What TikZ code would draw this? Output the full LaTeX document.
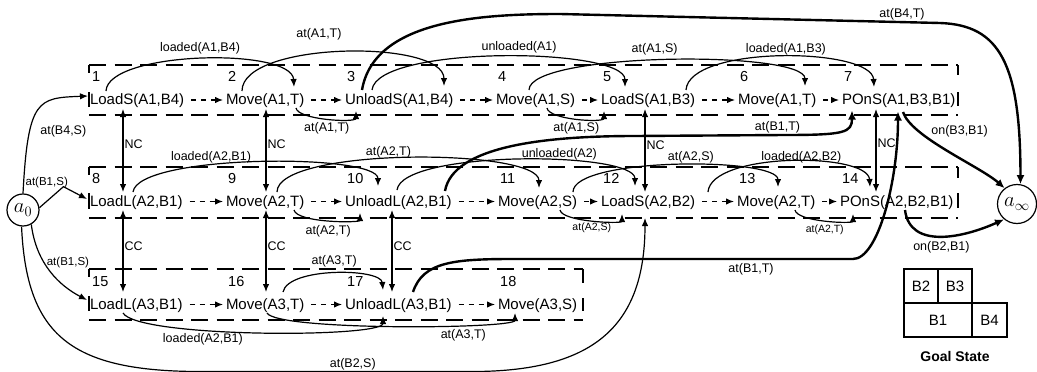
\documentclass[tikz,border=0pt]{standalone}
\usepackage{fontspec}
\setmainfont{Liberation Sans}
\usetikzlibrary{arrows.meta,calc}

\tikzset{
  act/.style={anchor=base west, inner sep=0pt, outer sep=0pt, font=\fontsize{15}{18}\selectfont},
  num/.style={anchor=base west, inner sep=0pt, font=\fontsize{14.5}{17}\selectfont},
  lab/.style={inner sep=1pt, font=\fontsize{12.5}{14}\selectfont},
  slab/.style={inner sep=1pt, font=\fontsize{10.5}{12}\selectfont},
  mlab/.style={inner sep=1pt, font=\fontsize{11.5}{13}\selectfont},
  link/.style={line width=1.2pt, -{Latex[length=8pt,width=6.5pt]}},
  heavy/.style={line width=2.4pt, -{Latex[length=9pt,width=8pt]}},
  order/.style={line width=1.2pt, dash pattern=on 5pt off 5pt, -{Latex[length=8pt,width=6.5pt]}},
  conflict/.style={line width=1.2pt, {Latex[length=8pt,width=6.5pt]}-{Latex[length=8pt,width=6.5pt]}},
  frame/.style={line width=1.5pt, dash pattern=on 17pt off 8.5pt},
  tick/.style={line width=1.5pt},
  state/.style={circle, draw, line width=1.2pt, inner sep=0pt, font=\fontsize{20}{24}\selectfont},
  block/.style={draw, line width=1.3pt, inner sep=0pt, minimum height=34pt, font=\fontsize{15}{18}\selectfont},
}

\begin{document}
\begin{tikzpicture}[x=1pt,y=-1pt]
\useasboundingbox (0,0) rectangle (1037,372);

% ---------- plan steps ----------
\node[act] (n1)  at (90,104.5)  {LoadS(A1,B4)};
\node[act] (n2)  at (226,104.5) {Move(A1,T)};
\node[act] (n3)  at (345,104.5) {UnloadS(A1,B4)};
\node[act] (n4)  at (496,104.5) {Move(A1,S)};
\node[act] (n5)  at (601,104.5) {LoadS(A1,B3)};
\node[act] (n6)  at (738,104.5) {Move(A1,T)};
\node[act] (n7)  at (842,104.5) {POnS(A1,B3,B1)};

\node[act] (n8)  at (90,206)  {LoadL(A2,B1)};
\node[act] (n9)  at (226,206) {Move(A2,T)};
\node[act] (n10) at (345,206) {UnloadL(A2,B1)};
\node[act] (n11) at (498,206) {Move(A2,S)};
\node[act] (n12) at (601,206) {LoadS(A2,B2)};
\node[act] (n13) at (737,206) {Move(A2,T)};
\node[act] (n14) at (840,206) {POnS(A2,B2,B1)};

\node[act] (n15) at (90,309)  {LoadL(A3,B1)};
\node[act] (n16) at (226,309) {Move(A3,T)};
\node[act] (n17) at (345,309) {UnloadL(A3,B1)};
\node[act] (n18) at (498,309) {Move(A3,S)};

% step numbers
\foreach \k in {1,...,18}
  \node[num] (k\k) at ($(n\k.base west)+(2,-23)$) {\k};

% start and goal states
\node[state, minimum size=32pt] (a0) at (23,210) {$a_0$};
\node[state, minimum size=39pt] (ainf) at (1017,204) {$a_\infty$};

% ---------- agent frames ----------
\foreach \t/\b/\r in {65/115/958, 167/218/958, 269/320/583} {
  \draw[frame] (89,\t) -- (\r,\t);
  \draw[frame] (89,\b) -- (\r,\b);
}
\draw[tick] (89,65) -- (89,73)   (89,92) -- (89,107)
            (958,65) -- (958,75) (958,92) -- (958,106);
\draw[tick] (89,167) -- (89,175) (89,193) -- (89,209)
            (958,167) -- (958,178) (958,193) -- (958,208);
\draw[tick] (89,269) -- (89,277) (89,296) -- (89,311)
            (583,269) -- (583,283) (583,298) -- (583,311);

% ---------- ordering within each agent ----------
\foreach \a/\b in {n1/n2,n2/n3,n3/n4,n4/n5,n5/n6,n6/n7,
                   n8/n9,n9/n10,n10/n11,n11/n12,n12/n13,n13/n14,
                   n15/n16,n16/n17,n17/n18}
  \draw[order] ($(\a.base east)+(7,-4.5)$) -- ($(\b.base west)+(-3,-4.5)$);

% ---------- conflicts between agents ----------
\draw[conflict] ($(n1.base west)+(33,4.5)$) -- ($(n8.base west)+(33,-14)$)
  node[lab, pos=.43, anchor=west] (c1) {NC};
\draw[conflict] ($(n8.base west)+(33,4)$) -- ($(n15.base west)+(33,-17)$)
  node[lab, pos=.44, anchor=west] (c2) {CC};
\draw[conflict] ($(n2.base west)+(40,4.5)$) -- ($(n9.base west)+(40,-14)$)
  node[lab, pos=.43, anchor=west] (c3) {NC};
\draw[conflict] ($(n9.base west)+(40,4)$) -- ($(n16.base west)+(40,-17)$)
  node[lab, pos=.44, anchor=west] (c4) {CC};
\draw[conflict] ($(n10.base west)+(47,4)$) -- ($(n17.base west)+(47,-17)$)
  node[lab, pos=.44, anchor=west] (c5) {CC};
\draw[conflict] ($(n5.base west)+(44,4.5)$) -- ($(n12.base west)+(44,-14)$)
  node[lab, pos=.44, anchor=west] (c6) {NC};
\draw[conflict] ($(n7.base west)+(34,4.5)$) -- ($(n14.base west)+(36,-14)$)
  node[lab, pos=.41, anchor=west] (c7) {NC};

% ---------- causal links, agent A1 ----------
\draw[link] ($(n1.base west)+(16,-13.5)$) .. controls +(2,-40) and +(-2,-40) .. ($(n2.base west)+(68,-17.5)$)
  node[lab, pos=.5, above=3pt] (l1) {loaded(A1,B4)};
\draw[link] ($(n2.base west)+(16,-13.5)$) .. controls +(0,-50) and +(0,-47) .. ($(n3.base west)+(99,-18.5)$)
  node[lab, pos=.42, above=12pt] (l2) {at(A1,T)};
\draw[link] ($(n2.base west)+(70,3.5)$) .. controls +(2,12) and +(0,12) .. ($(n3.base west)+(11,6.5)$)
  node[lab, pos=.5, below=2pt] (l3) {at(A1,T)};
\draw[link] ($(n3.base west)+(27,-14.5)$) .. controls +(5,-45) and +(0,-40) .. ($(n5.base west)+(24,-17.5)$)
  node[lab, pos=.55, above=2pt] (l4) {unloaded(A1)};
\draw[link] ($(n4.base west)+(33,-14.5)$) .. controls +(0,-38) and +(0,-36) .. ($(n6.base west)+(67,-18.5)$)
  node[lab, pos=.47, above=4pt] (l5) {at(A1,S)};
\draw[link] ($(n4.base west)+(51,3.5)$) .. controls +(2,12) and +(0,12) .. ($(n5.base west)+(3,6.5)$)
  node[lab, pos=.5, below=2pt] (l6) {at(A1,S)};
\draw[link] ($(n5.base west)+(85,-14.5)$) .. controls +(3,-45) and +(-2,-40) .. ($(n7.base west)+(32,-17.5)$)
  node[lab, pos=.52, above=0pt] (l7) {loaded(A1,B3)};

% ---------- causal links, agent A2 ----------
\draw[link] ($(n8.base west)+(43,-14)$) .. controls +(5,-38) and +(0,-33) .. ($(n10.base west)+(33,-20)$)
  node[lab, pos=.37, above=0pt] (l8) {loaded(A2,B1)};
\draw[link] ($(n9.base west)+(51,-14)$) .. controls +(0,-45) and +(0,-40) .. ($(n11.base west)+(41,-18)$)
  node[lab, pos=.45, above=-1pt] (l9) {at(A2,T)};
\draw[link] ($(n9.base west)+(68,4)$) .. controls +(3,13) and +(0,10) .. ($(n10.base west)+(15,7)$)
  node[lab, pos=.5, below=4pt] (l10) {at(A2,T)};
\draw[link] ($(n10.base west)+(52,-16)$) .. controls +(5,-40) and +(0,-35) .. ($(n12.base west)+(34,-20)$)
  node[lab, pos=.62, above=0pt] (l11) {unloaded(A2)};
\draw[link] ($(n11.base west)+(75,-14)$) .. controls +(0,-35) and +(0,-30) .. ($(n13.base west)+(41,-19)$)
  node[lab, pos=.55, above=0pt] (l12) {at(A2,S)};
\draw[link] ($(n11.base west)+(62,4)$) .. controls +(2,12) and +(0,10) .. ($(n12.base west)+(21,8)$)
  node[slab, pos=.5, below=1pt] (l13) {at(A2,S)};
\draw[link] ($(n12.base west)+(107,-14)$) .. controls +(3,-40) and +(-2,-35) .. ($(n14.base west)+(30,-19)$)
  node[lab, pos=.55, above=-3pt] (l14) {loaded(A2,B2)};
\draw[link] ($(n13.base west)+(58,4)$) .. controls +(2,12) and +(0,10) .. ($(n14.base west)+(13,8)$)
  node[slab, pos=.5, below=3pt] (l15) {at(A2,T)};

% ---------- causal links, agent A3 ----------
\draw[link] ($(n16.base west)+(57,-17)$) .. controls +(5,-25) and +(-2,-22) .. ($(n17.base west)+(38,-19)$)
  node[lab, pos=.5, above=5pt] (l16) {at(A3,T)};
\draw[link] ($(n15.base west)+(33,4)$) .. controls +(15,25) and +(0,22) .. ($(n17.base west)+(38,7)$)
  node[lab, pos=.35, below=2pt] (l17) {loaded(A2,B1)};
\draw[link] ($(n16.base west)+(41,4)$) .. controls +(10,18) and +(0,16) .. ($(n18.base west)+(17,4)$)
  node[lab, pos=.7, below=4pt] (l18) {at(A3,T)};

% ---------- links from the start state ----------
\draw[link] (a0.90) .. controls +(5,-95) and +(-50,2) .. ($(n1.base west)+(-2,-8.5)$)
  node[lab, pos=.3, anchor=west, xshift=9pt] (l19) {at(B4,S)};
\draw[link] (a0.8) -- ++(24,-21) node[mlab, anchor=east, xshift=6pt, yshift=4pt] (l20) {at(B1,S)}
  -- ($(n8.base west)+(-3,-7)$);
\draw[link] (a0.-60) .. controls +(5,40) and +(-27,-14) .. ($(n15.base west)+(-3,-9)$)
  node[mlab, pos=.38, anchor=west, xshift=1pt] (l21) {at(B1,S)};
\draw[link] (a0.-95) .. controls +(5,110) and +(-130,0) .. ++(180,145)
  -- ++(270,0) node[lab, pos=.56, above=0pt] (l22) {at(B2,S)}
  .. controls +(120,0) and +(0,110) .. ($(n12.base west)+(44,12)$);

% ---------- links carrying block positions ----------
\draw[heavy] ($(n3.base west)+(17,-14.5)$) .. controls +(12,-70) and +(-80,0) .. ++(198,-76)
  -- ++(380,9) node[lab, pos=.9, above=0pt] (l23) {at(B4,T)}
  .. controls +(60,2) and +(0,-120) .. (ainf.80);
\draw[heavy] ($(n10.base west)+(100,-15)$) .. controls +(8,-45) and +(-90,0) .. ++(190,-55)
  -- ++(150,-1) node[lab, pos=.95, above=0pt] (l24) {at(B1,T)}
  .. controls +(60,0) and +(0,22) .. ($(n7.base west)+(10,6)$);
\draw[heavy] ($(n17.base west)+(68,-17)$) .. controls +(10,-30) and +(-60,0) .. ++(100,-33)
  -- ++(340,0) node[lab, pos=.7, below=2pt] (l25) {at(B1,T)}
  .. controls +(25,0) and +(0,70) .. ($(n7.base west)+(56,7)$);
\draw[heavy] ($(n7.base west)+(61,7.5)$) .. controls +(8,25) and +(-25,-22) .. (ainf.128)
  node[lab, pos=.35, anchor=south west] (l26) {on(B3,B1)};
\draw[heavy] ($(n14.base west)+(65,4)$) .. controls +(5,40) and +(-40,18) .. (ainf.230)
  node[lab, pos=.5, below=3pt] (l27) {on(B2,B1)};

% ---------- goal state ----------
\node[block, minimum width=34pt] (gB2) at (921,286) {B2};
\node[block, minimum width=34pt] (gB3) at (955,286) {B3};
\node[block, minimum width=68pt] (gB1) at (938,320) {B1};
\node[block, minimum width=35pt] (gB4) at (989.5,320) {B4};
\node[inner sep=0pt, font=\bfseries\fontsize{14}{16}\selectfont] (goal) at (955,356) {Goal State};
\end{tikzpicture}
\end{document}
